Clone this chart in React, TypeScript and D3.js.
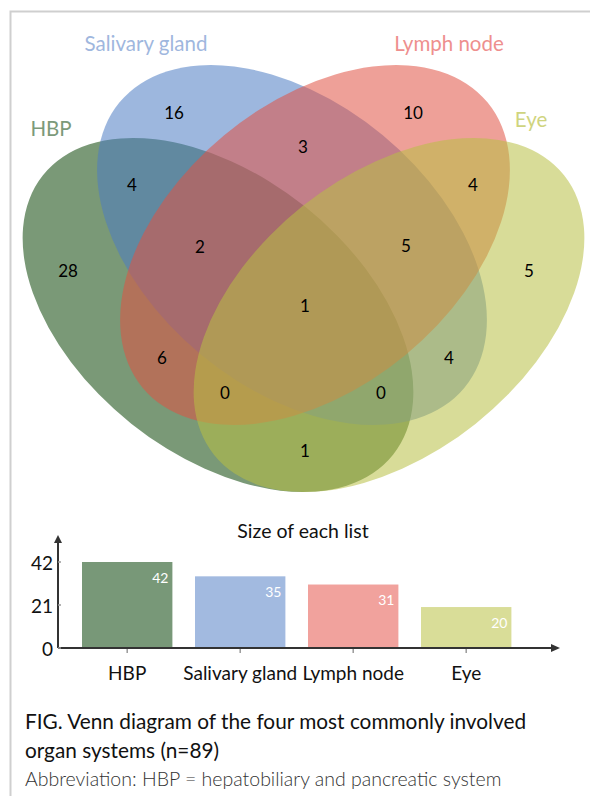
import React from "react";
import * as d3 from "d3";

// ---- data ----
const categories = ["HBP", "Salivary gland", "Lymph node", "Eye"];
const listSizes = [42, 35, 31, 20];
const yTicks = [0, 21, 42];
// region counts keyed by membership (A=HBP, B=Salivary, C=Lymph, D=Eye)
const regionKeys = ["B", "C", "BC", "AB", "CD", "ABC", "BCD", "A", "D", "ABCD", "AC", "BD", "ACD", "ABD", "AD"];
const regionCounts = [16, 10, 3, 4, 4, 2, 5, 28, 5, 1, 6, 4, 0, 0, 1];
const captionLines = [
  "FIG. Venn diagram of the four most commonly involved",
  "organ systems (n=89)",
];
const abbreviation = "Abbreviation: HBP = hepatobiliary and pancreatic system";
const barTitle = "Size of each list";

// ---- layout / style (not data) ----
const W = 590;
const H = 796;
const FONT = "Lato, 'Open Sans', sans-serif";
const baseColors = ["rgb(13,70,8)", "rgb(77,123,195)", "rgb(224,82,68)", "rgb(184,191,68)"];
const labelColors = ["#7c9a7a", "#9fb7de", "#ee8f8e", "#cfd47e"];
const barColors = ["#789878", "#a2bae0", "#f1a29d", "#d9dd98"];
const ellipses = [
  { cx: 218, cy: 315, rx: 224, ry: 139, rot: 38.6 },
  { cx: 292, cy: 245, rx: 223.8, ry: 142.5, rot: 39.6 },
  { cx: 315, cy: 245, rx: 223.8, ry: 142.5, rot: -39.6 },
  { cx: 389, cy: 315, rx: 224, ry: 139, rot: -38.6 },
];
const setLabelPos: [number, number][] = [
  [51, 128],
  [146, 43],
  [449, 43],
  [531, 119],
];
const regionPos: Record<string, [number, number]> = {
  B: [174, 112],
  C: [413, 112],
  BC: [303, 146],
  AB: [132, 184],
  CD: [473, 184],
  ABC: [200, 246],
  BCD: [406, 245],
  A: [68, 270],
  D: [529, 270],
  ABCD: [305, 305],
  AC: [162, 357],
  BD: [449, 357],
  ACD: [225, 392],
  ABD: [381, 392],
  AD: [305, 450],
};

export default function App() {
  const x = d3
    .scaleBand<string>()
    .domain(categories)
    .range([70.7, 522.7])
    .paddingInner(0.2)
    .paddingOuter(0.1);
  const y = d3.scaleLinear().domain([0, 42]).range([648, 562]);
  const axisX0 = 58;
  const axisY0 = y(0);

  return (
    <svg
      width={W}
      height={H}
      style={{ position: "absolute", left: 0, top: 0, background: "#fff" }}
      fontFamily={FONT}
    >
      <rect x={0} y={0} width={W} height={H} fill="#fff" />
      {/* frame */}
      <path d={`M10.5,${H} L10.5,11.5 L${W},11.5`} fill="none" stroke="#cfcfcf" strokeWidth={2} />

      {/* Venn ellipses */}
      <g>
        {ellipses.map((e, i) => (
          <ellipse
            key={i}
            cx={e.cx}
            cy={e.cy}
            rx={e.rx}
            ry={e.ry}
            transform={`rotate(${e.rot},${e.cx},${e.cy})`}
            fill={baseColors[i]}
            fillOpacity={0.55}
          />
        ))}
      </g>
      {/* set labels */}
      {categories.map((c, i) => (
        <text
          key={c}
          x={setLabelPos[i][0]}
          y={setLabelPos[i][1]}
          textAnchor="middle"
          dominantBaseline="central"
          fontSize={20.5}
          fill={labelColors[i]}
        >
          {c}
        </text>
      ))}
      {/* region counts */}
      {regionKeys.map((k, i) => (
        <text
          key={k}
          x={regionPos[k][0]}
          y={regionPos[k][1]}
          textAnchor="middle"
          dominantBaseline="central"
          fontSize={17}
          fill="#000"
        >
          {regionCounts[i]}
        </text>
      ))}

      {/* bar chart */}
      <text x={303} y={530} textAnchor="middle" dominantBaseline="central" fontSize={19.5} fill="#111">
        {barTitle}
      </text>
      {categories.map((c, i) => (
        <g key={c}>
          <rect
            x={x(c)!}
            y={y(listSizes[i])}
            width={x.bandwidth()}
            height={axisY0 - y(listSizes[i])}
            fill={barColors[i]}
          />
          <text
            x={x(c)! + x.bandwidth() - 4}
            y={y(listSizes[i]) + 15}
            textAnchor="end"
            dominantBaseline="central"
            fontSize={14}
            fill="#fff"
          >
            {listSizes[i]}
          </text>
          <line
            x1={x(c)! + x.bandwidth() / 2}
            x2={x(c)! + x.bandwidth() / 2}
            y1={axisY0}
            y2={axisY0 + 5}
            stroke="#999"
            strokeWidth={1.5}
          />
          <text
            x={x(c)! + x.bandwidth() / 2}
            y={672}
            textAnchor="middle"
            dominantBaseline="central"
            fontSize={19}
            fill="#111"
          >
            {c}
          </text>
        </g>
      ))}
      {/* axes */}
      <line x1={axisX0} x2={axisX0} y1={axisY0} y2={542} stroke="#333" strokeWidth={2} />
      <path d={`M${axisX0 - 4},${543} L${axisX0},${535} L${axisX0 + 4},${543} Z`} fill="#333" />
      <line x1={axisX0} x2={552} y1={axisY0} y2={axisY0} stroke="#333" strokeWidth={2} />
      <path d={`M${551},${axisY0 - 4} L${560},${axisY0} L${551},${axisY0 + 4} Z`} fill="#333" />
      {yTicks.map((t) => (
        <g key={t}>
          <line x1={axisX0} x2={axisX0 + 3} y1={y(t)} y2={y(t)} stroke="#999" strokeWidth={1.5} />
          <text x={53} y={y(t)} textAnchor="end" dominantBaseline="central" fontSize={19} fill="#111">
            {t}
          </text>
        </g>
      ))}

      {/* caption */}
      {captionLines.map((l, i) => (
        <text key={i} x={25} y={720 + i * 29} dominantBaseline="central" fontSize={20.8} fill="#111">
          {l}
        </text>
      ))}
      <text x={25} y={778} dominantBaseline="central" fontSize={19.5} fill="#333" fontWeight={300}>
        {abbreviation}
      </text>
    </svg>
  );
}
